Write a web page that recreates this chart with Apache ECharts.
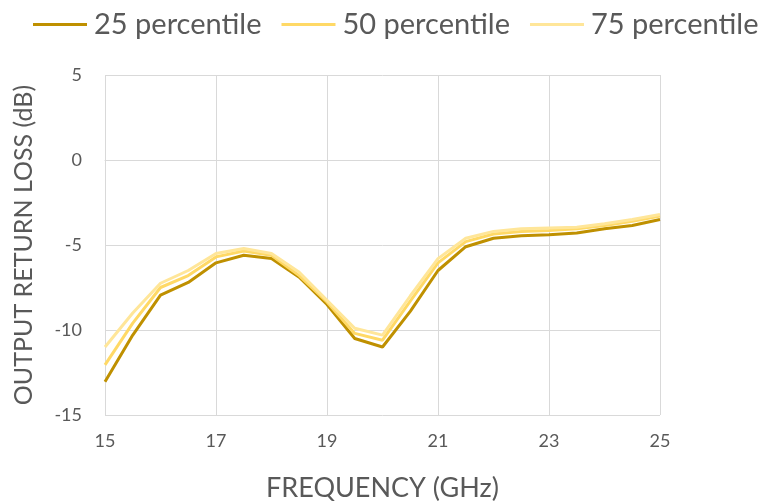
<!DOCTYPE html>
<html><head><meta charset="utf-8">
<script src="https://cdn.jsdelivr.net/npm/echarts@6/dist/echarts.min.js"></script>
<style>html,body{margin:0;padding:0;background:#fff}#c{width:761px;height:501px}</style>
</head><body><div id="c"></div>
<script>
const freq = [15,15.5,16,16.5,17,17.5,18,18.5,19,19.5,20,20.5,21,21.5,22,22.5,23,23.5,24,24.5,25];
const p25 = [-13.05,-10.3,-7.95,-7.2,-6.05,-5.6,-5.8,-6.9,-8.5,-10.5,-11.0,-8.9,-6.5,-5.1,-4.6,-4.45,-4.4,-4.3,-4.05,-3.85,-3.5];
const p50 = [-12.05,-9.6,-7.5,-6.8,-5.7,-5.35,-5.6,-6.8,-8.35,-10.2,-10.6,-8.3,-6.05,-4.8,-4.35,-4.2,-4.15,-4.05,-3.85,-3.6,-3.3];
const p75 = [-11.0,-9.0,-7.25,-6.5,-5.5,-5.2,-5.5,-6.6,-8.25,-9.9,-10.3,-8.0,-5.8,-4.6,-4.2,-4.05,-4.0,-3.95,-3.75,-3.5,-3.2];
const names = ['25 percentile','50 percentile','75 percentile'];
const colors = ['#BF9000','#FFD966','#FFE699'];
const xTicks = [15,17,19,21,23,25];
const yTicks = [-15,-10,-5,0,5];

const font = 'Lato, "Open Sans", sans-serif';
const chart = echarts.init(document.getElementById('c'));
const pair = (arr) => freq.map((f,i)=>[f,arr[i]]);
chart.setOption({
  animation:false,
  color: colors,
  legend:{
    top: 10, left: 33, padding: 0,
    icon: 'rect',
    itemWidth: 54, itemHeight: 3, itemGap: 20,
    textStyle:{fontFamily:font, fontSize:29, color:'#595959', padding:[0,0,0,2]},
    data: names
  },
  grid:{left:105, right:101, top:75, bottom:86, outerBoundsMode:'none', containLabel:false},
  xAxis:{
    type:'value', min:xTicks[0], max:xTicks[xTicks.length-1], interval:2,
    name:'FREQUENCY (GHz)', nameLocation:'middle', nameGap:60,
    nameTextStyle:{fontFamily:font, fontSize:27, color:'#595959'},
    axisLine:{show:true, lineStyle:{color:'#D9D9D9', width:1}},
    axisTick:{show:false},
    axisLabel:{fontFamily:font, fontSize:18, color:'#595959', margin:17},
    splitLine:{show:true, lineStyle:{color:'#D9D9D9', width:1}}
  },
  yAxis:{
    type:'value', min:yTicks[0], max:yTicks[yTicks.length-1], interval:5,
    name:'OUTPUT RETURN LOSS (dB)', nameLocation:'middle', nameGap:69,
    nameTextStyle:{fontFamily:font, fontSize:25, color:'#595959'},
    axisLine:{show:false}, axisTick:{show:false},
    axisLabel:{fontFamily:font, fontSize:18, color:'#595959', margin:23},
    splitLine:{show:true, lineStyle:{color:'#D9D9D9', width:1}}
  },
  series:[
    {name:names[0], type:'line', data:pair(p25), symbol:'none', lineStyle:{width:3, color:colors[0]}},
    {name:names[1], type:'line', data:pair(p50), symbol:'none', lineStyle:{width:3, color:colors[1]}},
    {name:names[2], type:'line', data:pair(p75), symbol:'none', lineStyle:{width:3, color:colors[2]}}
  ]
});
</script></body></html>
